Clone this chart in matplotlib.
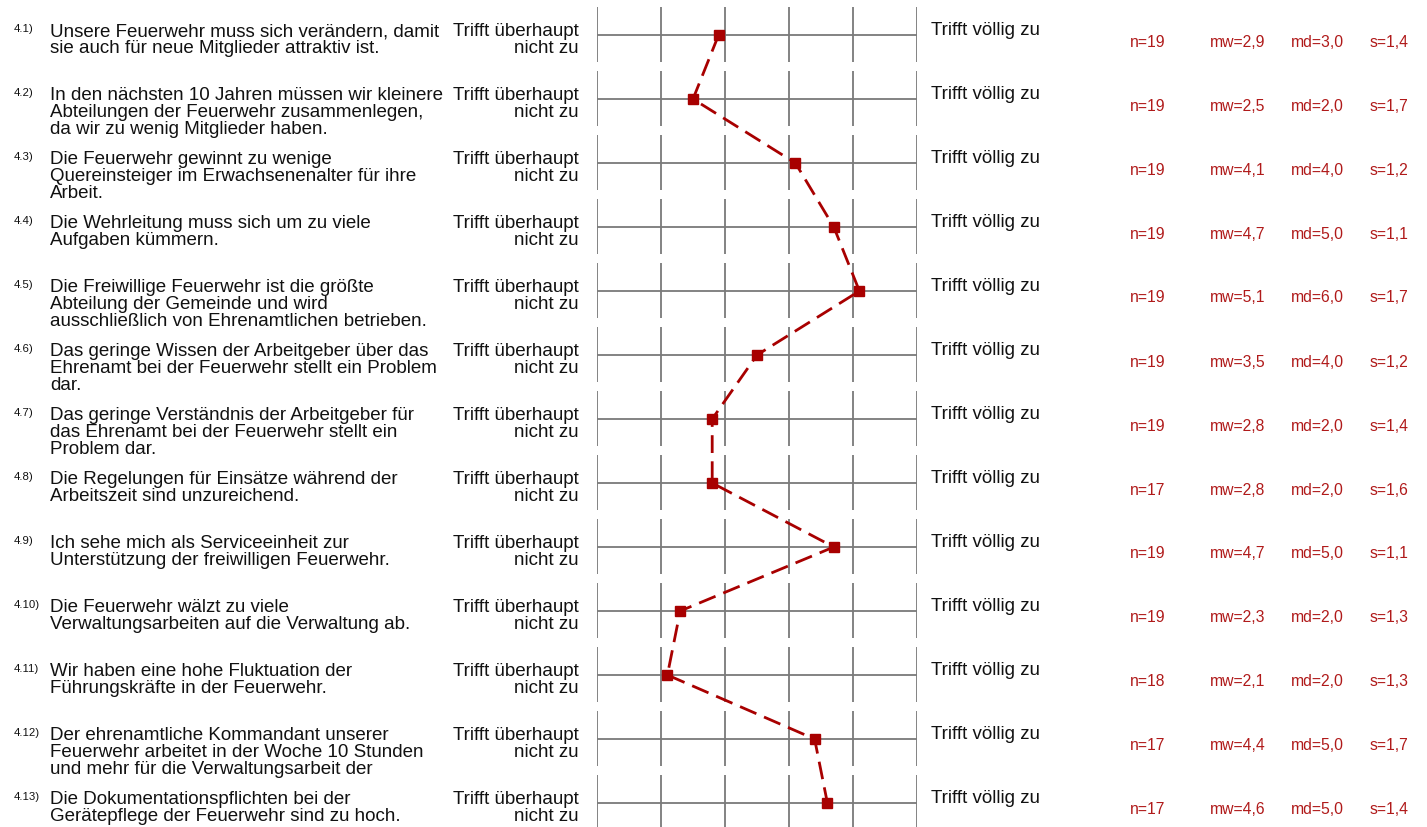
import matplotlib
matplotlib.use("Agg")
import matplotlib.pyplot as plt
import matplotlib.transforms as mtransforms

plt.rcParams['font.family'] = ['Liberation Sans', 'DejaVu Sans']

# ---------------- data ----------------
item_ids = ["4.1)", "4.2)", "4.3)", "4.4)", "4.5)", "4.6)", "4.7)", "4.8)",
            "4.9)", "4.10)", "4.11)", "4.12)", "4.13)"]
questions = [
    "Unsere Feuerwehr muss sich verändern, damit\nsie auch für neue Mitglieder attraktiv ist.",
    "In den nächsten 10 Jahren müssen wir kleinere\nAbteilungen der Feuerwehr zusammenlegen,\nda wir zu wenig Mitglieder haben.",
    "Die Feuerwehr gewinnt zu wenige\nQuereinsteiger im Erwachsenenalter für ihre\nArbeit.",
    "Die Wehrleitung muss sich um zu viele\nAufgaben kümmern.",
    "Die Freiwillige Feuerwehr ist die größte\nAbteilung der Gemeinde und wird\nausschließlich von Ehrenamtlichen betrieben.",
    "Das geringe Wissen der Arbeitgeber über das\nEhrenamt bei der Feuerwehr stellt ein Problem\ndar.",
    "Das geringe Verständnis der Arbeitgeber für\ndas Ehrenamt bei der Feuerwehr stellt ein\nProblem dar.",
    "Die Regelungen für Einsätze während der\nArbeitszeit sind unzureichend.",
    "Ich sehe mich als Serviceeinheit zur\nUnterstützung der freiwilligen Feuerwehr.",
    "Die Feuerwehr wälzt zu viele\nVerwaltungsarbeiten auf die Verwaltung ab.",
    "Wir haben eine hohe Fluktuation der\nFührungskräfte in der Feuerwehr.",
    "Der ehrenamtliche Kommandant unserer\nFeuerwehr arbeitet in der Woche 10 Stunden\nund mehr für die Verwaltungsarbeit der",
    "Die Dokumentationspflichten bei der\nGerätepflege der Feuerwehr sind zu hoch.",
]
left_pole = "Trifft überhaupt\nnicht zu"
right_pole = "Trifft völlig zu"
scale_points = [1, 2, 3, 4, 5, 6]

n_vals = [19, 19, 19, 19, 19, 19, 19, 17, 19, 19, 18, 17, 17]
mw_vals = [2.9, 2.5, 4.1, 4.7, 5.1, 3.5, 2.8, 2.8, 4.7, 2.3, 2.1, 4.4, 4.6]
md_vals = [3.0, 2.0, 4.0, 5.0, 6.0, 4.0, 2.0, 2.0, 5.0, 2.0, 2.0, 5.0, 5.0]
s_vals = [1.4, 1.7, 1.2, 1.1, 1.7, 1.2, 1.4, 1.6, 1.1, 1.3, 1.3, 1.7, 1.4]

# ---------------- layout ----------------
W, H = 1427, 827
fig = plt.figure(figsize=(W / 100, H / 100), dpi=100)

row_px0, row_step = 35, 64      # pixel y of first row centre, spacing
x_left_px, x_right_px = 597, 917
top_px = row_px0 - row_step / 2
bot_px = row_px0 + row_step * (len(questions) - 1) + row_step / 2
ax = fig.add_axes([x_left_px / W, 1 - bot_px / H,
                   (x_right_px - x_left_px) / W, (bot_px - top_px) / H])
ax.set_xlim(scale_points[0], scale_points[-1])
ax.set_ylim(len(questions) - 0.5, -0.5)
ax.axis('off')

rows = list(range(len(questions)))
grid_col = '#7a7a7a'
ax.hlines(rows, scale_points[0], scale_points[-1], color=grid_col, lw=1.3, zorder=1)
for r in rows:
    ax.vlines(scale_points, r - 28 / row_step, r + 27 / row_step,
              color=grid_col, lw=1.3, zorder=1)

red = '#A80000'
ax.plot(mw_vals, rows, color=red, lw=2.0, linestyle=(0, (6.4, 3.0)),
        marker='s', markersize=7, markerfacecolor=red, markeredgecolor=red,
        zorder=3, clip_on=False)

trans = mtransforms.blended_transform_factory(fig.transFigure, ax.transData)
line_h = 17 / row_step
main_fs = 13.5
stat_fs = 11.3
stat_col = '#B01A1A'
txt_col = '#111111'


def fig_x(px):
    return px / W


for r in rows:
    ax.text(fig_x(14), r - 3.5 / row_step, item_ids[r], transform=trans,
            fontsize=8.2, ha='left', va='baseline', color=txt_col)
    for j, ln in enumerate(questions[r].split('\n')):
        ax.text(fig_x(50), r + 1 / row_step + j * line_h, ln, transform=trans,
                fontsize=main_fs, ha='left', va='baseline', color=txt_col)
    for j, ln in enumerate(left_pole.split('\n')):
        ax.text(fig_x(579), r + 1 / row_step + j * line_h, ln, transform=trans,
                fontsize=main_fs, ha='right', va='baseline', color=txt_col)
    ax.text(fig_x(931), r, right_pole, transform=trans,
            fontsize=main_fs, ha='left', va='baseline', color=txt_col)
    sy = r + 11.5 / row_step
    ax.text(fig_x(1130), sy, f"n={n_vals[r]}", transform=trans,
            fontsize=stat_fs, ha='left', va='baseline', color=stat_col)
    ax.text(fig_x(1210), sy, "mw=" + f"{mw_vals[r]:.1f}".replace('.', ','),
            transform=trans, fontsize=stat_fs, ha='left', va='baseline', color=stat_col)
    ax.text(fig_x(1291), sy, "md=" + f"{md_vals[r]:.1f}".replace('.', ','),
            transform=trans, fontsize=stat_fs, ha='left', va='baseline', color=stat_col)
    ax.text(fig_x(1370), sy, "s=" + f"{s_vals[r]:.1f}".replace('.', ','),
            transform=trans, fontsize=stat_fs, ha='left', va='baseline', color=stat_col)

fig.savefig("out.png", dpi=100)
